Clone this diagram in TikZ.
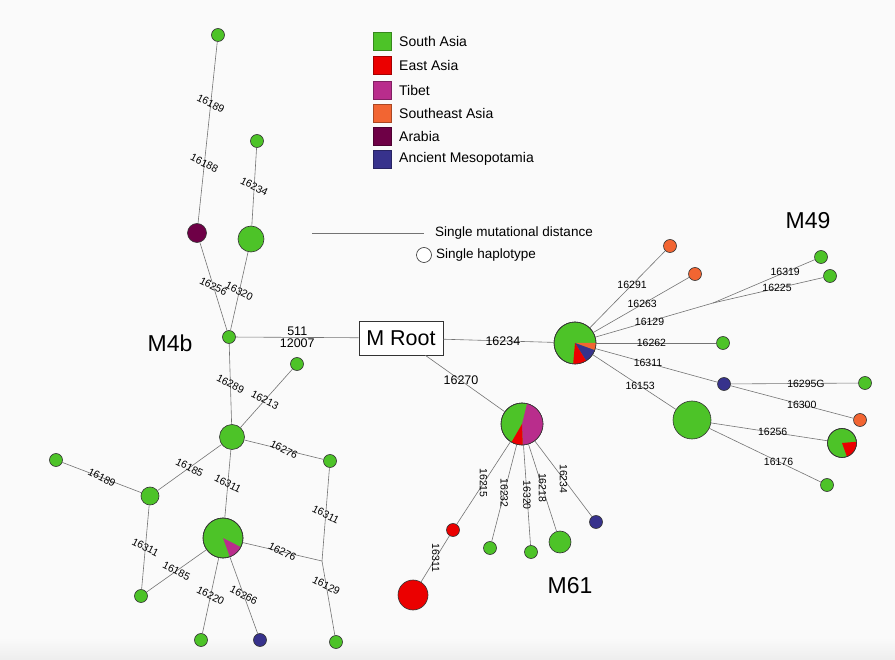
\documentclass[tikz,border=0pt]{standalone}
\usepackage{fontspec}
\setmainfont{Liberation Sans}
\usetikzlibrary{positioning}
\definecolor{southasia}{RGB}{77,195,40}
\definecolor{eastasia}{RGB}{235,0,0}
\definecolor{tibet}{RGB}{185,45,140}
\definecolor{seasia}{RGB}{242,101,50}
\definecolor{arabia}{RGB}{110,0,70}
\definecolor{mesopot}{RGB}{55,50,140}
\definecolor{bggray}{RGB}{250,250,250}

\begin{document}
\begin{tikzpicture}[x=1pt, y=1pt,
    hap/.style={circle, draw=black!80, line width=0.6pt, inner sep=0pt, minimum size=13pt, fill=southasia},
    lnk/.style={draw=black!55, line width=0.6pt},
    lbl/.style={font=\fontsize{10.5}{12}\selectfont, inner sep=0pt},
    lblb/.style={lbl, rotate=-27},
    lblc/.style={lbl, rotate=-90},
    lblr/.style={font=\fontsize{12.5}{14}\selectfont, inner sep=0pt},
    grp/.style={font=\fontsize{23}{26}\selectfont},
    key/.style={draw=#1!70!black, fill=#1, minimum size=18pt, inner sep=0pt, line width=0.5pt},
    keytxt/.style={anchor=west, font=\fontsize{14}{16}\selectfont, inner sep=0pt},
    rootbox/.style={draw=black!80, fill=white, line width=0.6pt, minimum width=84pt, minimum height=34pt,
                    font=\fontsize{21.5}{24}\selectfont}
]
\fill[bggray] (0,0) rectangle (895,-660);
\shade[top color=bggray, bottom color=black!7] (0,-638) rectangle (895,-660);

% legend
\node[key=southasia] (kSA) at (382.5,-41)  {};
\node[key=eastasia]  (kEA) at (382.5,-65.5){};
\node[key=tibet]     (kTB) at (382.5,-90)  {};
\node[key=seasia]    (kSE) at (382.5,-113) {};
\node[key=arabia]    (kAR) at (382.5,-136) {};
\node[key=mesopot]   (kAM) at (382.5,-159) {};
\node[keytxt] (tSA) at (399,-41)   {South Asia};
\node[keytxt] (tEA) at (399,-65.5) {East Asia};
\node[keytxt] (tTB) at (399,-90)   {Tibet};
\node[keytxt] (tSE) at (399,-113)  {Southeast Asia};
\node[keytxt] (tAR) at (399,-136)  {Arabia};
\node[keytxt] (tAM) at (399,-159)  {Ancient Mesopotamia};
\coordinate (sc1) at (312,-233);
\coordinate (sc2) at (424,-233);
\draw[lnk] (sc1) -- (sc2);
\node[keytxt, font=\fontsize{13.5}{15}\selectfont] (tsc) at (435,-233) {Single mutational distance};
\node[circle, draw=black!80, line width=0.6pt, minimum size=15pt, inner sep=0pt, fill=white] (khap) at (424,-255) {};
\node[keytxt, font=\fontsize{13.5}{15}\selectfont] (thap) at (436,-255) {Single haplotype};

% root
\node[rootbox] (root) at (401,-338) {M Root};

% M4b
\node[grp] (gM4b) at (170,-343) {M4b};
\node[hap]                       (t1) at (218,-35)  {};
\node[hap, minimum size=19pt, fill=arabia] (ar) at (197,-233) {};
\node[hap, minimum size=26pt]    (tg) at (251,-239) {};
\node[hap]                       (t2) at (257,-141) {};
\node[hap]                       (jn) at (229,-337) {};
\node[hap]                       (tp) at (297,-364) {};
\node[hap, minimum size=25pt]    (ce) at (232,-437) {};
\node[hap]                       (rn) at (330,-461) {};
\node[hap]                       (lf) at (56,-460)  {};
\node[hap, minimum size=18pt]    (lm) at (150,-496) {};
\node[hap, minimum size=40pt]    (bp) at (223,-538) {};
\node[hap]                       (bl) at (141,-596) {};
\node[hap]                       (b1) at (201,-640) {};
\node[hap, fill=mesopot]         (bb) at (260,-640) {};
\node[hap]                       (br) at (336,-642) {};
\coordinate (jp) at (322,-561);
\fill[tibet] (bp.center) -- ++(-70:20pt) arc[start angle=-70, end angle=-27, radius=20pt] -- cycle;
\draw[draw=black!80, line width=0.6pt] (bp.center) circle[radius=20pt];
\draw[lnk] (t1) -- node[lblb, pos=0.34] {16189} node[lblb, pos=0.67] {16188} (ar);
\draw[lnk] (t2) -- node[lblb, pos=0.5] {16234} (tg);
\draw[lnk] (ar) -- node[lblb, pos=0.5] {16256} (jn);
\draw[lnk] (tg) -- node[lblb, pos=0.5] {16320} (jn);
\draw[lnk] (jn) -- node[lblr, above=1pt] {511} node[lblr, below=1pt] {12007} (root);
\draw[lnk] (jn) -- node[lblb, pos=0.5] {16289} (ce);
\draw[lnk] (ce) -- node[lblb, pos=0.47] {16213} (tp);
\draw[lnk] (ce) -- node[lblb, pos=0.5] {16276} (rn);
\draw[lnk] (ce) -- node[lblb, pos=0.5] {16185} (lm);
\draw[lnk] (lm) -- node[lblb, pos=0.5] {16189} (lf);
\draw[lnk] (ce) -- node[lblb, pos=0.5] {16311} (bp);
\draw[lnk] (lm) -- node[lblb, pos=0.5] {16311} (bl);
\draw[lnk] (bp) -- node[lblb, pos=0.5] {16185} (bl);
\draw[lnk] (bp) -- node[lblb, pos=0.5] {16220} (b1);
\draw[lnk] (bp) -- node[lblb, pos=0.5] {16266} (bb);
\draw[lnk] (bp) -- node[lblb, pos=0.5] {16276} (jp);
\draw[lnk] (rn) -- node[lblb, pos=0.5] {16311} (jp);
\draw[lnk] (jp) -- node[lblb, pos=0.33] {16129} (br);

% M61
\node[grp] (gM61) at (570,-586) {M61};
\node[hap, minimum size=42pt]                 (mp) at (522,-424) {};
\node[hap, fill=eastasia]                     (rs) at (453,-530) {};
\node[hap, minimum size=30pt, fill=eastasia]  (rb) at (413,-595) {};
\node[hap]                                    (g1) at (490,-548) {};
\node[hap]                                    (g2) at (531,-552) {};
\node[hap, minimum size=22pt]                 (g3) at (560,-542) {};
\node[hap, fill=mesopot]                      (mb) at (596,-522) {};
\fill[tibet] (mp.center) -- ++(-88:21pt) arc[start angle=-88, end angle=76, radius=21pt] -- cycle;
\fill[eastasia] (mp.center) -- ++(240:21pt) arc[start angle=240, end angle=272, radius=21pt] -- cycle;
\draw[draw=black!80, line width=0.6pt] (mp.center) circle[radius=21pt];
\draw[lnk] (root) -- node[lblr, pos=0.45] {16270} (mp);
\draw[lnk] (mp) -- node[lblc, pos=0.5] {16215} (rs);
\draw[lnk] (rs) -- node[lblc, pos=0.48] {16311} (rb);
\draw[lnk] (mp) -- node[lblc, pos=0.5] {16232} (g1);
\draw[lnk] (mp) -- node[lblc, pos=0.5] {16320} (g2);
\draw[lnk] (mp) -- node[lblc, pos=0.5] {16218} (g3);
\draw[lnk] (mp) -- node[lblc, pos=0.5] {16234} (mb);

% M49
\node[grp] (gM49) at (808,-221) {M49};
\node[hap, minimum size=42pt]                (np) at (575,-343) {};
\node[hap, fill=seasia]                      (o1) at (670,-246) {};
\node[hap, fill=seasia]                      (o2) at (695,-274) {};
\node[hap]                                   (ga) at (821,-257) {};
\node[hap]                                   (gb) at (830,-276) {};
\node[hap]                                   (gc) at (723,-343) {};
\node[hap, fill=mesopot]                     (nb) at (724,-384) {};
\node[hap]                                   (gd) at (865,-383) {};
\node[hap, fill=seasia]                      (o3) at (860,-420) {};
\node[hap, minimum size=38pt]                (gg) at (692,-420) {};
\node[hap, minimum size=29pt]                (sp) at (842,-443) {};
\node[hap]                                   (ge) at (827,-485) {};
\coordinate (jq) at (713,-303);
\fill[seasia] (np.center) -- ++(-20:21pt) arc[start angle=-20, end angle=0, radius=21pt] -- cycle;
\fill[mesopot] (np.center) -- ++(-58:21pt) arc[start angle=-58, end angle=-20, radius=21pt] -- cycle;
\fill[eastasia] (np.center) -- ++(-95:21pt) arc[start angle=-95, end angle=-58, radius=21pt] -- cycle;
\draw[draw=black!80, line width=0.6pt] (np.center) circle[radius=21pt];
\fill[eastasia] (sp.center) -- ++(-70:14.5pt) arc[start angle=-70, end angle=5, radius=14.5pt] -- cycle;
\draw[draw=black!80, line width=0.6pt] (sp.center) circle[radius=14.5pt];
\draw[lnk] (root) -- node[lblr, pos=0.54] {16234} (np);
\draw[lnk] (np) -- node[lbl, pos=0.56] {16291} (o1);
\draw[lnk] (np) -- node[lbl, pos=0.51] {16263} (o2);
\draw[lnk] (np) -- node[lbl, pos=0.46] {16129} (jq);
\draw[lnk] (jq) -- node[lbl, pos=0.71] {16319} (ga);
\draw[lnk] (jq) -- node[lbl, pos=0.58] {16225} (gb);
\draw[lnk] (np) -- node[lbl, pos=0.46] {16262} (gc);
\draw[lnk] (np) -- node[lbl, pos=0.43] {16311} (nb);
\draw[lnk] (nb) -- node[lbl, pos=0.59] {16295G} (gd);
\draw[lnk] (nb) -- node[lbl, pos=0.58] {16300} (o3);
\draw[lnk] (np) -- node[lbl, pos=0.57] {16153} (gg);
\draw[lnk] (gg) -- node[lbl, pos=0.53] {16256} (sp);
\draw[lnk] (gg) -- node[lbl, pos=0.62] {16176} (ge);
\end{tikzpicture}
\end{document}
